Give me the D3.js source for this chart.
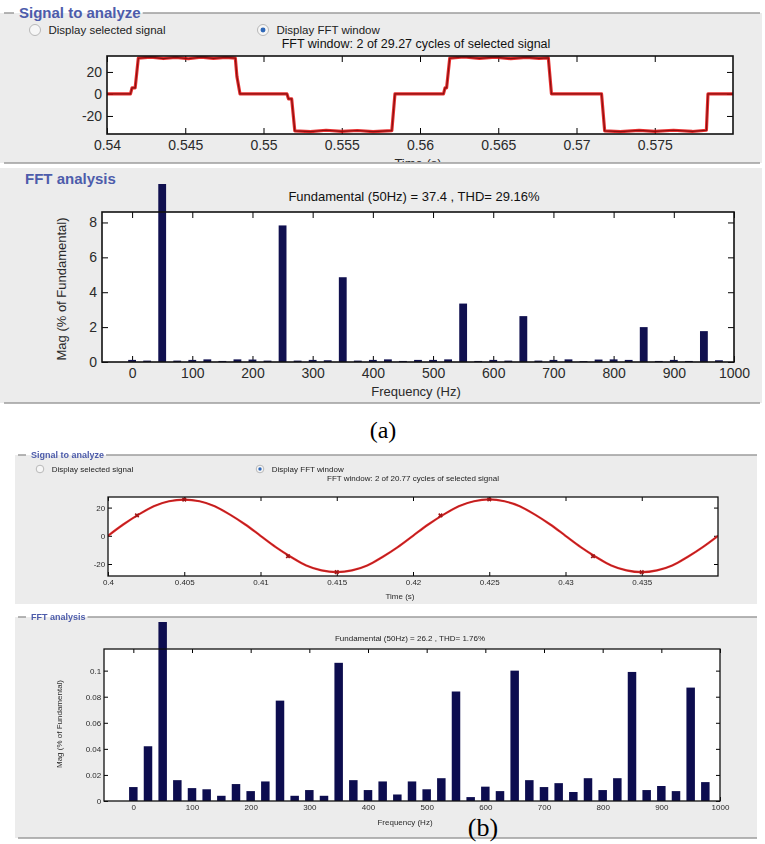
<!DOCTYPE html>
<html>
<head>
<meta charset="utf-8">
<script src="https://cdn.jsdelivr.net/npm/d3@7"></script>
<style>
  body { margin: 0; background: #fff; }
  svg { display: block; font-family: "Liberation Sans", Arial, sans-serif; }
</style>
</head>
<body>
<svg id="fig" width="765" height="844"></svg>
<script>
// ---- data ----

// harmonic bins (Hz), 25 Hz resolution
const binsHz = [0, 25, 50, 75, 100, 125, 150, 175, 200, 225, 250, 275, 300, 325, 350, 375,
  400, 425, 450, 475, 500, 525, 550, 575, 600, 625, 650, 675, 700, 725, 750, 775,
  800, 825, 850, 875, 900, 925, 950, 975];

// (a) magnitude, % of fundamental (fundamental bar runs off the axes)
const magA = [0.12, 0.08, 100, 0.08, 0.12, 0.15, 0.06, 0.15, 0.14, 0.08, 7.83, 0.08, 0.12, 0.1,
  4.86, 0.08, 0.12, 0.15, 0.06, 0.12, 0.12, 0.15, 3.35, 0.06, 0.12, 0.08, 2.63, 0.08, 0.12,
  0.15, 0.05, 0.14, 0.15, 0.12, 2.0, 0.06, 0.12, 0.06, 1.77, 0.1];

// (b) magnitude, % of fundamental
const magB = [0.0107, 0.042, 100, 0.016, 0.0099, 0.009, 0.004, 0.013, 0.0076, 0.015, 0.077,
  0.004, 0.0084, 0.004, 0.106, 0.016, 0.0084, 0.015, 0.005, 0.015, 0.009, 0.0175, 0.084,
  0.003, 0.011, 0.0076, 0.1, 0.016, 0.0107, 0.0137, 0.0069, 0.0175, 0.0084, 0.0175, 0.099,
  0.0084, 0.0115, 0.0076, 0.087, 0.0145];

// (a) stepped voltage, [time s, value]
const sigA = [
  [0.5400, 0], [0.5415, 0], [0.5416, 5.5], [0.5418, 5.5], [0.5420, 32.5],
  [0.5428, 33.5], [0.5436, 32.2], [0.5444, 33.2], [0.5452, 32.0], [0.5460, 33.4],
  [0.5468, 32.4], [0.5476, 33.2], [0.5482, 32.6], [0.5483, 16], [0.5485, 0],
  [0.5515, 0], [0.5516, -4.5], [0.5518, -4.5], [0.5520, -33.5],
  [0.5530, -34.3], [0.5540, -33.0], [0.5550, -34.0], [0.5560, -33.2], [0.5570, -34.2],
  [0.5582, -33.4], [0.5584, 0],
  [0.5615, 0], [0.5616, 5.5], [0.5617, 5.5], [0.5619, 32.5],
  [0.5628, 33.6], [0.5638, 32.3], [0.5648, 33.4], [0.5658, 32.1], [0.5668, 33.3],
  [0.5676, 32.4], [0.5682, 32.8], [0.5684, 0],
  [0.5716, 0], [0.5718, -33.5], [0.5728, -34.2], [0.5740, -33.1], [0.5750, -34.0],
  [0.5762, -33.0], [0.5774, -34.1], [0.5783, -33.0], [0.5784, 0], [0.5800, 0]
];

// (b) sinusoidal voltage, one sample per ms from 0.400 s
const sigB_t0 = 0.4, sigB_dt = 0.001;
const sigB = [0, 8, 15, 21, 24.5, 25.7, 24.5, 21, 15, 8, 0, -8, -15, -21, -24.5, -25.7,
  -24.5, -21, -15, -8, 0, 8, 15, 21, 24.5, 25.8, 24.5, 21, 15, 8, 0, -8, -15, -21, -24.5,
  -25.8, -24.5, -21, -15, -8, 0];
// small markers on the (b) trace
const sigB_marks = [[0.4019, 14.5], [0.405, 25.7], [0.4118, -14.5], [0.415, -25.7],
  [0.4218, 14.5], [0.425, 25.8], [0.4318, -14.5], [0.435, -25.8]];

const ticksTimeA = [0.54, 0.545, 0.55, 0.555, 0.56, 0.565, 0.57, 0.575];
const ticksTimeB = [0.4, 0.405, 0.41, 0.415, 0.42, 0.425, 0.43, 0.435];
const ticksSig = [-20, 0, 20];
const ticksHz = [0, 100, 200, 300, 400, 500, 600, 700, 800, 900, 1000];
const ticksMagA = [0, 2, 4, 6, 8];
const ticksMagB = [0, 0.02, 0.04, 0.06, 0.08, 0.1];

// ---- drawing ----
const svg = d3.select('#fig');
const gray = '#ececec', edge = '#9c9c9c', blue = '#4d5cab', navy = '#10104f';
const dark = '#2a2a2a';

const defs = svg.append('defs');
defs.append('filter').attr('id', 'soft')
  .append('feGaussianBlur').attr('stdDeviation', 0.45);

let clipN = 0;

function panelBox(g, x0, y0, x1, y1) {
  g.append('rect').attr('x', x0).attr('y', y0)
    .attr('width', x1 - x0).attr('height', y1 - y0).attr('fill', gray);
}

function hline(g, x0, x1, y) {
  g.append('line').attr('x1', x0).attr('x2', x1).attr('y1', y).attr('y2', y)
    .attr('stroke', edge).attr('stroke-width', 1.5);
}

// panel title breaking into the top border line
function legendTitle(g, text, x0, x1, y, fs, dash) {
  const t = g.append('text').attr('x', x0 + dash + 5).attr('y', y + fs * 0.35)
    .attr('fill', blue).attr('font-size', fs).attr('font-weight', 'bold').text(text);
  const w = t.node().getComputedTextLength();
  hline(g, x0, x0 + dash, y);
  hline(g, x0 + dash + 7 + w, x1, y);
}

function radio(g, x, y, r, label, on, fs) {
  g.append('circle').attr('cx', x).attr('cy', y).attr('r', r)
    .attr('fill', '#f6f6f6').attr('stroke', '#b8b8b8');
  if (on) g.append('circle').attr('cx', x).attr('cy', y).attr('r', r * 0.45).attr('fill', '#2f68b8');
  g.append('text').attr('x', x + r + 8).attr('y', y + fs * 0.35)
    .attr('font-size', fs).attr('fill', '#222').text(label);
}

// white axes box with MATLAB style inward ticks on all four sides
function axesFrame(g, x, y, xt, yt, fs, tick, xfmt, yfmt) {
  const [xa, xb] = x.range(), [ya, yb] = y.range();
  g.append('rect').attr('x', xa).attr('y', yb)
    .attr('width', xb - xa).attr('height', ya - yb).attr('fill', '#fff');

  const style = s => {
    s.select('.domain').remove();
    s.selectAll('line').attr('stroke', '#000');
    s.selectAll('text').attr('font-size', fs).attr('fill', dark).attr('font-family', null);
  };
  g.append('g').attr('transform', `translate(0,${ya})`)
    .call(d3.axisBottom(x).tickValues(xt).tickSizeInner(-tick).tickSizeOuter(0)
      .tickPadding(fs * 0.45).tickFormat(xfmt)).call(style);
  g.append('g').attr('transform', `translate(0,${yb})`)
    .call(d3.axisTop(x).tickValues(xt).tickSizeInner(-tick).tickSizeOuter(0).tickFormat('')).call(style);
  g.append('g').attr('transform', `translate(${xa},0)`)
    .call(d3.axisLeft(y).tickValues(yt).tickSizeInner(-tick).tickSizeOuter(0)
      .tickPadding(fs * 0.35).tickFormat(yfmt)).call(style);
  g.append('g').attr('transform', `translate(${xb},0)`)
    .call(d3.axisRight(y).tickValues(yt).tickSizeInner(-tick).tickSizeOuter(0).tickFormat('')).call(style);
}

function outline(g, x, y, w) {
  const [xa, xb] = x.range(), [ya, yb] = y.range();
  g.append('rect').attr('x', xa).attr('y', yb)
    .attr('width', xb - xa).attr('height', ya - yb)
    .attr('fill', 'none').attr('stroke', '#111').attr('stroke-width', w);
}

function clipFor(x, y) {
  const id = 'clip' + (clipN++);
  const [xa, xb] = x.range(), [ya, yb] = y.range();
  defs.append('clipPath').attr('id', id).append('rect')
    .attr('x', xa).attr('y', yb).attr('width', xb - xa).attr('height', ya - yb);
  return `url(#${id})`;
}

const fmtPlain = d => String(d);

function fftBars(g, x, y, mags, barHz, overshoot) {
  const top = y.range()[1];
  g.append('g').selectAll('rect')
    .data(binsHz.map((f, i) => ({ f, m: mags[i] })))
    .join('rect')
    .attr('x', d => x(d.f - barHz / 2))
    .attr('width', d => x(barHz) - x(0))
    .attr('y', d => Math.max(y(d.m), top - overshoot))
    .attr('height', d => y(0) - Math.max(y(d.m), top - overshoot))
    .attr('fill', navy);
}

// ================= (a) =================
{
  const g = svg.append('g');
  panelBox(g, 0, 13, 762, 163);
  legendTitle(g, 'Signal to analyze', 4, 760, 13, 15, 10);
  hline(g, 4, 760, 163);

  // clip the axis label that runs under the panel edge
  const pc = 'panelA1';
  defs.append('clipPath').attr('id', pc).append('rect')
    .attr('x', 0).attr('y', 13).attr('width', 762).attr('height', 149);
  const inner = g.append('g').attr('clip-path', `url(#${pc})`);

  radio(inner, 35, 30, 5.5, 'Display selected signal', false, 11.5);
  radio(inner, 263, 30, 5.5, 'Display FFT window', true, 11.5);
  inner.append('text').attr('x', 416).attr('y', 47.5).attr('text-anchor', 'middle')
    .attr('font-size', 12.5).attr('fill', '#111')
    .text('FFT window: 2 of 29.27 cycles of selected signal');

  const x = d3.scaleLinear().domain([0.54, 0.58]).range([107, 733]);
  const y = d3.scaleLinear().domain([-36.4, 34.5]).range([134, 56]);
  axesFrame(inner, x, y, ticksTimeA, ticksSig, 14, 6, fmtPlain, fmtPlain);

  const line = d3.line().x(d => x(d[0])).y(d => y(d[1]));
  const cp = clipFor(x, y);
  inner.append('path').datum(sigA).attr('d', line).attr('clip-path', cp)
    .attr('fill', 'none').attr('stroke', '#e30b0b').attr('stroke-width', 3.2)
    .attr('stroke-linejoin', 'round').attr('opacity', 0.85);
  inner.append('path').datum(sigA).attr('d', line).attr('clip-path', cp)
    .attr('fill', 'none').attr('stroke', '#8a1010').attr('stroke-width', 1.2);
  outline(inner, x, y, 1.6);

  inner.append('text').attr('x', 418).attr('y', 168).attr('text-anchor', 'middle')
    .attr('font-size', 13).attr('fill', dark).text('Time (s)');

  // FFT analysis
  const h = svg.append('g');
  panelBox(h, 0, 168, 762, 403);
  hline(h, 4, 760, 403);
  h.append('text').attr('x', 25).attr('y', 184).attr('fill', blue)
    .attr('font-size', 15).attr('font-weight', 'bold').text('FFT analysis');

  const fx = d3.scaleLinear().domain([-50, 1000]).range([102, 734]);
  const fy = d3.scaleLinear().domain([0, 8.6]).range([362, 212]);
  h.append('text').attr('x', 414).attr('y', 201).attr('text-anchor', 'middle')
    .attr('font-size', 13).attr('fill', '#111')
    .text('Fundamental (50Hz) = 37.4 , THD= 29.16%');
  axesFrame(h, fx, fy, ticksHz, ticksMagA, 14, 6, fmtPlain, fmtPlain);
  fftBars(h, fx, fy, magA, 13, 28);
  outline(h, fx, fy, 1.6);

  h.append('text').attr('x', 416).attr('y', 396).attr('text-anchor', 'middle')
    .attr('font-size', 13).attr('fill', dark).text('Frequency (Hz)');
  h.append('text').attr('transform', 'translate(66,289) rotate(-90)')
    .attr('text-anchor', 'middle').attr('font-size', 12).attr('fill', dark)
    .attr('textLength', 143).attr('lengthAdjust', 'spacingAndGlyphs')
    .text('Mag (% of Fundamental)');

  svg.append('text').attr('x', 383).attr('y', 438).attr('text-anchor', 'middle')
    .attr('font-family', '"Liberation Serif", "Times New Roman", serif')
    .attr('font-size', 24).attr('fill', '#000').text('(a)');
}

// ================= (b) =================
{
  const g = svg.append('g').attr('filter', 'url(#soft)');
  panelBox(g, 15, 455, 757, 604);
  legendTitle(g, 'Signal to analyze', 18, 757, 455, 9, 8);

  radio(g, 40, 469, 3.8, 'Display selected signal', false, 8);
  radio(g, 260, 469, 3.8, 'Display FFT window', true, 8);
  g.append('text').attr('x', 413).attr('y', 481).attr('text-anchor', 'middle')
    .attr('font-size', 8).attr('fill', '#222')
    .text('FFT window: 2 of 20.77 cycles of selected signal');

  const x = d3.scaleLinear().domain([0.4, 0.44]).range([108, 718]);
  const y = d3.scaleLinear().domain([-28.5, 27.5]).range([576, 497]);
  axesFrame(g, x, y, ticksTimeB, ticksSig, 8, 4, fmtPlain, fmtPlain);

  const pts = sigB.map((v, i) => [sigB_t0 + i * sigB_dt, v]);
  const line = d3.line().x(d => x(d[0])).y(d => y(d[1])).curve(d3.curveCatmullRom);
  const cp = clipFor(x, y);
  g.append('path').datum(pts).attr('d', line).attr('clip-path', cp)
    .attr('fill', 'none').attr('stroke', '#e22a2a').attr('stroke-width', 2.2);
  g.append('path').datum(pts).attr('d', line).attr('clip-path', cp)
    .attr('fill', 'none').attr('stroke', '#9b1a1a').attr('stroke-width', 0.7);
  g.append('g').selectAll('path').data(sigB_marks).join('path')
    .attr('d', d3.symbol().type(d3.symbolCross).size(14))
    .attr('transform', d => `translate(${x(d[0])},${y(d[1])}) rotate(45)`)
    .attr('fill', '#a01818');
  outline(g, x, y, 1.3);
  g.append('text').attr('x', 400).attr('y', 599).attr('text-anchor', 'middle')
    .attr('font-size', 8).attr('fill', dark).text('Time (s)');

  // FFT analysis
  const h = svg.append('g').attr('filter', 'url(#soft)');
  panelBox(h, 15, 617, 757, 838);
  legendTitle(h, 'FFT analysis', 18, 757, 617, 9, 8);
  hline(h, 18, 757, 838);

  const fx = d3.scaleLinear().domain([-50, 1000]).range([104, 720]);
  const fy = d3.scaleLinear().domain([0, 0.1166]).range([801, 649]);
  h.append('text').attr('x', 410).attr('y', 641).attr('text-anchor', 'middle')
    .attr('font-size', 8).attr('fill', '#222')
    .text('Fundamental (50Hz) = 26.2 , THD= 1.76%');
  axesFrame(h, fx, fy, ticksHz, ticksMagB, 8, 4, fmtPlain, fmtPlain);
  fftBars(h, fx, fy, magB, 14.5, 27);
  outline(h, fx, fy, 1.3);

  h.append('text').attr('x', 405).attr('y', 825).attr('text-anchor', 'middle')
    .attr('font-size', 8).attr('fill', dark).text('Frequency (Hz)');
  h.append('text').attr('transform', 'translate(62,724) rotate(-90)')
    .attr('text-anchor', 'middle').attr('font-size', 8).attr('fill', dark)
    .text('Mag (% of Fundamental)');

  svg.append('text').attr('x', 483).attr('y', 836).attr('text-anchor', 'middle')
    .attr('font-family', '"Liberation Serif", "Times New Roman", serif')
    .attr('font-size', 26).attr('fill', '#000').text('(b)');
}
</script>
</body>
</html>
